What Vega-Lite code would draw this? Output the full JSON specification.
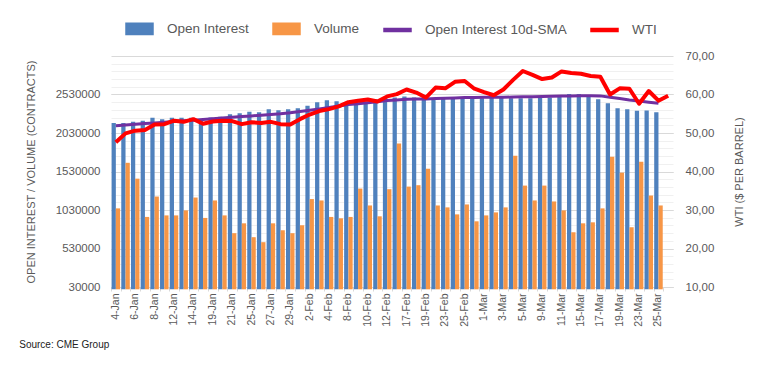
{
  "$schema": "https://vega.github.io/schema/vega-lite/v6.json",
  "autosize": "none",
  "width": 562,
  "height": 231,
  "padding": {"left": 111, "top": 56, "right": 97, "bottom": 83},
  "config": {
    "font": "Liberation Sans",
    "view": {"stroke": "transparent"},
    "axis": {"labelColor": "#595959", "titleColor": "#595959", "titleFontWeight": "normal"}
  },
  "title": {
    "text": "Source: CME Group",
    "orient": "bottom",
    "anchor": "start",
    "frame": "bounds",
    "fontSize": 10,
    "fontWeight": "normal",
    "color": "#222222",
    "offset": 14,
    "dx": -6
  },
  "data": {
    "values": [
      {"date": "4-Jan", "Open Interest": 2159000, "Volume": 1051000, "sma": 2125000, "wti": 47.6},
      {"date": "5-Jan", "Open Interest": 2159000, "Volume": 1643000, "sma": 2134000, "wti": 49.9},
      {"date": "6-Jan", "Open Interest": 2177000, "Volume": 1437000, "sma": 2143000, "wti": 50.6},
      {"date": "7-Jan", "Open Interest": 2190000, "Volume": 940000, "sma": 2152000, "wti": 50.8},
      {"date": "8-Jan", "Open Interest": 2228000, "Volume": 1205000, "sma": 2161000, "wti": 52.2},
      {"date": "11-Jan", "Open Interest": 2210000, "Volume": 960000, "sma": 2170000, "wti": 52.3},
      {"date": "12-Jan", "Open Interest": 2228000, "Volume": 960000, "sma": 2179000, "wti": 53.2},
      {"date": "13-Jan", "Open Interest": 2228000, "Volume": 1025000, "sma": 2188000, "wti": 52.9},
      {"date": "14-Jan", "Open Interest": 2228000, "Volume": 1192000, "sma": 2197000, "wti": 53.6},
      {"date": "15-Jan", "Open Interest": 2210000, "Volume": 927000, "sma": 2206000, "wti": 52.4},
      {"date": "19-Jan", "Open Interest": 2232000, "Volume": 1154000, "sma": 2215000, "wti": 53.0},
      {"date": "20-Jan", "Open Interest": 2241000, "Volume": 960000, "sma": 2224000, "wti": 53.2},
      {"date": "21-Jan", "Open Interest": 2275000, "Volume": 729000, "sma": 2233000, "wti": 53.1},
      {"date": "22-Jan", "Open Interest": 2288000, "Volume": 857000, "sma": 2243000, "wti": 52.3},
      {"date": "25-Jan", "Open Interest": 2305000, "Volume": 677000, "sma": 2252000, "wti": 52.8},
      {"date": "26-Jan", "Open Interest": 2300000, "Volume": 612000, "sma": 2261000, "wti": 52.6},
      {"date": "27-Jan", "Open Interest": 2339000, "Volume": 857000, "sma": 2270000, "wti": 52.9},
      {"date": "28-Jan", "Open Interest": 2326000, "Volume": 767000, "sma": 2280000, "wti": 52.3},
      {"date": "29-Jan", "Open Interest": 2339000, "Volume": 729000, "sma": 2293000, "wti": 52.2},
      {"date": "1-Feb", "Open Interest": 2352000, "Volume": 832000, "sma": 2310000, "wti": 53.6},
      {"date": "2-Feb", "Open Interest": 2383000, "Volume": 1172000, "sma": 2326000, "wti": 54.8},
      {"date": "3-Feb", "Open Interest": 2429000, "Volume": 1154000, "sma": 2343000, "wti": 55.7},
      {"date": "4-Feb", "Open Interest": 2455000, "Volume": 940000, "sma": 2362000, "wti": 56.2},
      {"date": "5-Feb", "Open Interest": 2442000, "Volume": 922000, "sma": 2380000, "wti": 56.9},
      {"date": "8-Feb", "Open Interest": 2429000, "Volume": 940000, "sma": 2400000, "wti": 58.0},
      {"date": "9-Feb", "Open Interest": 2429000, "Volume": 1308000, "sma": 2410000, "wti": 58.4},
      {"date": "10-Feb", "Open Interest": 2438000, "Volume": 1089000, "sma": 2422000, "wti": 58.7},
      {"date": "11-Feb", "Open Interest": 2468000, "Volume": 948000, "sma": 2437000, "wti": 58.2},
      {"date": "12-Feb", "Open Interest": 2481000, "Volume": 1300000, "sma": 2451000, "wti": 59.5},
      {"date": "16-Feb", "Open Interest": 2490000, "Volume": 1893000, "sma": 2460000, "wti": 60.1},
      {"date": "17-Feb", "Open Interest": 2503000, "Volume": 1334000, "sma": 2467000, "wti": 61.3},
      {"date": "18-Feb", "Open Interest": 2490000, "Volume": 1352000, "sma": 2470000, "wti": 60.5},
      {"date": "19-Feb", "Open Interest": 2490000, "Volume": 1566000, "sma": 2473000, "wti": 59.2},
      {"date": "22-Feb", "Open Interest": 2481000, "Volume": 1089000, "sma": 2477000, "wti": 61.8},
      {"date": "23-Feb", "Open Interest": 2481000, "Volume": 1064000, "sma": 2481000, "wti": 61.6},
      {"date": "24-Feb", "Open Interest": 2481000, "Volume": 973000, "sma": 2485000, "wti": 63.3},
      {"date": "25-Feb", "Open Interest": 2481000, "Volume": 1102000, "sma": 2490000, "wti": 63.5},
      {"date": "26-Feb", "Open Interest": 2481000, "Volume": 883000, "sma": 2491000, "wti": 61.5},
      {"date": "1-Mar", "Open Interest": 2481000, "Volume": 960000, "sma": 2493000, "wti": 60.6},
      {"date": "2-Mar", "Open Interest": 2503000, "Volume": 999000, "sma": 2494000, "wti": 59.8},
      {"date": "3-Mar", "Open Interest": 2503000, "Volume": 1064000, "sma": 2494000, "wti": 61.3},
      {"date": "4-Mar", "Open Interest": 2481000, "Volume": 1734000, "sma": 2497000, "wti": 63.8},
      {"date": "5-Mar", "Open Interest": 2481000, "Volume": 1347000, "sma": 2500000, "wti": 66.1},
      {"date": "8-Mar", "Open Interest": 2481000, "Volume": 1154000, "sma": 2502000, "wti": 65.1},
      {"date": "9-Mar", "Open Interest": 2490000, "Volume": 1347000, "sma": 2503000, "wti": 64.0},
      {"date": "10-Mar", "Open Interest": 2490000, "Volume": 1141000, "sma": 2506000, "wti": 64.4},
      {"date": "11-Mar", "Open Interest": 2503000, "Volume": 1025000, "sma": 2509000, "wti": 66.0},
      {"date": "12-Mar", "Open Interest": 2538000, "Volume": 741000, "sma": 2512000, "wti": 65.6},
      {"date": "15-Mar", "Open Interest": 2538000, "Volume": 857000, "sma": 2513000, "wti": 65.4},
      {"date": "16-Mar", "Open Interest": 2516000, "Volume": 870000, "sma": 2513000, "wti": 64.8},
      {"date": "17-Mar", "Open Interest": 2468000, "Volume": 1051000, "sma": 2512000, "wti": 64.6},
      {"date": "18-Mar", "Open Interest": 2417000, "Volume": 1721000, "sma": 2495000, "wti": 60.0},
      {"date": "19-Mar", "Open Interest": 2352000, "Volume": 1515000, "sma": 2478000, "wti": 61.6},
      {"date": "22-Mar", "Open Interest": 2339000, "Volume": 806000, "sma": 2460000, "wti": 61.5},
      {"date": "23-Mar", "Open Interest": 2318000, "Volume": 1656000, "sma": 2445000, "wti": 57.6},
      {"date": "24-Mar", "Open Interest": 2322000, "Volume": 1218000, "sma": 2430000, "wti": 60.9},
      {"date": "25-Mar", "Open Interest": 2301000, "Volume": 1089000, "sma": 2415000, "wti": 58.4},
      {"date": "26-Mar", "Open Interest": null, "Volume": null, "sma": null, "wti": 59.7}
    ]
  },
  "encoding": {
    "x": {
      "field": "date",
      "type": "ordinal",
      "sort": null,
      "scale": {"paddingInner": 0.12, "paddingOuter": 0.06},
      "axis": {
        "title": null,
        "labelAngle": -90,
        "labelFontSize": 10.5,
        "labelOverlap": false,
        "labelPadding": 2,
        "bandPosition": 0,
        "tickSize": 4,
        "tickColor": "#d9d9d9",
        "domainColor": "#d9d9d9",
        "labelExpr": "indexof(['4-Jan','6-Jan','8-Jan','12-Jan','14-Jan','19-Jan','21-Jan','25-Jan','27-Jan','29-Jan','2-Feb','4-Feb','8-Feb','10-Feb','12-Feb','17-Feb','19-Feb','23-Feb','25-Feb','1-Mar','3-Mar','5-Mar','9-Mar','11-Mar','15-Mar','17-Mar','19-Mar','23-Mar','25-Mar'], datum.value) >= 0 ? datum.value : ''"
      }
    }
  },
  "layer": [
    {
      "layer": [
        {
          "mark": {"type": "bar", "width": {"band": 0.5}, "xOffset": -2.13},
          "transform": [{"filter": "isValid(datum['Open Interest'])"}],
          "encoding": {
            "y": {
              "field": "Open Interest",
              "type": "quantitative",
              "scale": {"domain": [30000, 3030000], "nice": false, "zero": false},
              "axis": {
                "title": "OPEN INTEREST / VOLUME (CONTRACTS)",
                "titleFontSize": 11,
                "titlePadding": 19,
                "labelFontSize": 11.5,
                "labelPadding": 11,
                "labelOverlap": false,
                "ticks": false,
                "domain": false,
                "grid": true,
                "gridColor": "#d9d9d9",
                "format": "d",
                "values": [30000, 530000, 1030000, 1530000, 2030000, 2530000]
              }
            },
            "color": {
              "datum": "Open Interest",
              "type": "nominal",
              "scale": {
                "domain": ["Open Interest", "Volume", "Open Interest 10d-SMA", "WTI"],
                "range": ["#4f81bd", "#f79646", "#7030a0", "#ff0000"]
              },
              "legend": {
                "title": null,
                "orient": "none",
                "direction": "horizontal",
                "columns": 4,
                "legendX": 14,
                "legendY": -42,
                "labelFontSize": 13.5,
                "labelColor": "#595959",
                "labelOffset": 13,
                "columnPadding": 21,
                "symbolSize": 729,
                "encode": {
                  "symbols": {
                    "update": {
                      "shape": {"signal": "indexof(['Open Interest','Volume'], datum.value) >= 0 ? 'M-1,-0.42H1V0.42H-1Z' : 'M-1,-0.11H1V0.11H-1Z'"},
                      "fill": {"scale": "color", "field": "value"},
                      "stroke": {"value": "transparent"},
                      "opacity": {"value": 1},
                      "fillOpacity": {"value": 1}
                    }
                  }
                }
              }
            }
          }
        },
        {
          "mark": {"type": "bar", "width": {"band": 0.5}, "xOffset": 2.13},
          "transform": [{"filter": "isValid(datum['Volume'])"}],
          "encoding": {
            "y": {"field": "Volume", "type": "quantitative"},
            "color": {"datum": "Volume", "type": "nominal"}
          }
        },
        {
          "mark": {"type": "line", "strokeWidth": 3},
          "encoding": {
            "y": {"field": "sma", "type": "quantitative"},
            "color": {"datum": "Open Interest 10d-SMA", "type": "nominal"}
          }
        }
      ]
    },
    {
      "mark": {"type": "line", "strokeWidth": 4, "strokeJoin": "round"},
      "encoding": {
        "y": {
          "field": "wti",
          "type": "quantitative",
          "scale": {"domain": [10, 70], "nice": false, "zero": false},
          "axis": {
            "orient": "right",
            "title": "WTI ($ PER BARREL)",
            "titleAngle": -90,
            "titleFontSize": 11,
            "titlePadding": 31,
            "labelFontSize": 11.5,
            "labelPadding": 12,
            "labelOverlap": false,
            "ticks": false,
            "domain": false,
            "grid": true,
            "gridColor": {"condition": {"test": "datum.value % 10 == 0", "value": "#d9d9d9"}, "value": "#f0f0f0"},
            "values": [10, 12, 14, 16, 18, 20, 22, 24, 26, 28, 30, 32, 34, 36, 38, 40, 42, 44, 46, 48, 50, 52, 54, 56, 58, 60, 62, 64, 66, 68, 70],
            "labelExpr": "datum.value % 10 == 0 ? replace(format(datum.value, '.2f'), '.', ',') : ''"
          }
        },
        "color": {"datum": "WTI", "type": "nominal"}
      }
    }
  ],
  "resolve": {"scale": {"y": "independent"}}
}
